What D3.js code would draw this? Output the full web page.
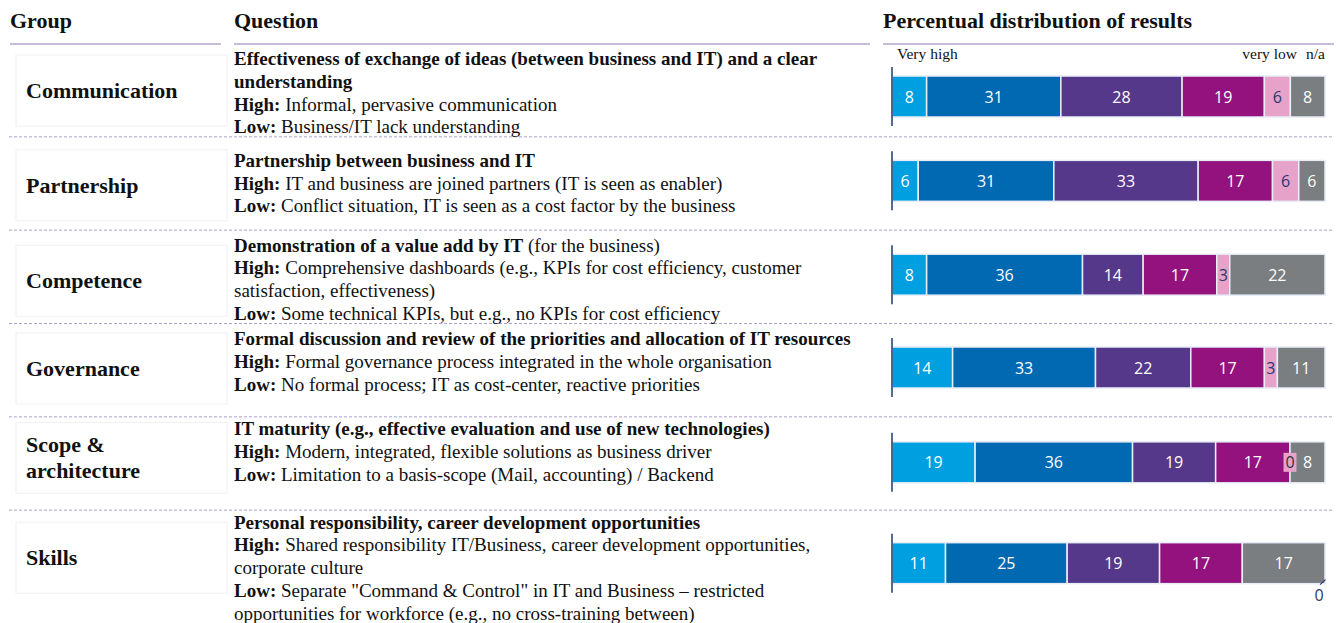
<!DOCTYPE html>
<html>
<head>
<meta charset="utf-8">
<script src="https://cdn.jsdelivr.net/npm/d3@7"></script>
<style>
  html, body { margin: 0; padding: 0; background: #ffffff; }
  svg { display: block; }
</style>
</head>
<body>
<div id="chart"></div>
<script>
// ---------------- DATA ----------------
const groups = ["Communication", "Partnership", "Competence", "Governance", "Scope & architecture", "Skills"];
const groupLabelLines = [["Communication"], ["Partnership"], ["Competence"], ["Governance"], ["Scope &", "architecture"], ["Skills"]];

// each line: [bold part, regular part]
const questionLines = [
  [["Effectiveness of exchange of ideas (between business and IT) and a clear", ""],
   ["understanding", ""],
   ["High:", " Informal, pervasive communication"],
   ["Low:", " Business/IT lack understanding"]],
  [["Partnership between business and IT", ""],
   ["High:", " IT and business are joined partners (IT is seen as enabler)"],
   ["Low:", " Conflict situation, IT is seen as a cost factor by the business"]],
  [["Demonstration of a value add by IT", " (for the business)"],
   ["High:", " Comprehensive dashboards (e.g., KPIs for cost efficiency, customer"],
   ["", "satisfaction, effectiveness)"],
   ["Low:", " Some technical KPIs, but e.g., no KPIs for cost efficiency"]],
  [["Formal discussion and review of the priorities and allocation of IT resources", ""],
   ["High:", " Formal governance process integrated in the whole organisation"],
   ["Low:", " No formal process; IT as cost-center, reactive priorities"]],
  [["IT maturity (e.g., effective evaluation and use of new technologies)", ""],
   ["High:", " Modern, integrated, flexible solutions as business driver"],
   ["Low:", " Limitation to a basis-scope (Mail, accounting) / Backend"]],
  [["Personal responsibility, career development opportunities", ""],
   ["High:", " Shared responsibility IT/Business, career development opportunities,"],
   ["", "corporate culture"],
   ["Low:", " Separate \"Command & Control\" in IT and Business \u2013 restricted"],
   ["", "opportunities for workforce (e.g., no cross-training between)"]]
];

const headers = ["Group", "Question", "Percentual distribution of results"];
const scaleLabels = ["Very high", "very low", "n/a"];

const seriesNames = ["Very high", "High", "Medium", "Low", "Very low", "n/a"];
const veryHigh = [8, 6, 8, 14, 19, 11];
const high     = [31, 31, 36, 33, 36, 25];
const medium   = [28, 33, 14, 22, 19, 19];
const low      = [19, 17, 17, 17, 17, 17];
const veryLow  = [6, 6, 3, 3, 0, 0];
const notAvail = [8, 6, 22, 11, 8, 17];

// ---------------- STYLE / LAYOUT ----------------
const colors = ["#009fe0", "#0069b2", "#56388a", "#94127e", "#e6a2c9", "#7a7e80"];
const labelColors = ["#ffffff", "#ffffff", "#ffffff", "#ffffff", "#27396b", "#ffffff"];
const serif = "'Liberation Serif', 'Times New Roman', serif";
const sans = "'Open Sans', 'Noto Sans', sans-serif";

const W = 1341, H = 623;
const qFirstOffset = [21.5, 30, 21.5, 21.5, 18.5, 18.5];
const barOffset = [53, 44, 44.5, 44, 45.5, 53];
const boxOffset = [11.5, 13, 15, 9.5, 5.5, 12];
const zeroMode = ["box", "box", "box", "box", "box", "leader"];

const svg = d3.select("#chart").append("svg")
  .attr("width", W).attr("height", H)
  .style("background", "#ffffff");

const rows = d3.scaleBand().domain(groups).range([43.5, 603.5]).paddingInner(0).paddingOuter(0);

// ---------- headers ----------
const headerX = [10, 234, 883];
const headerLines = [[10, 221], [234, 870], [883, 1334]];
headers.forEach((h, i) => {
  svg.append("text").attr("x", headerX[i]).attr("y", 28)
    .attr("font-family", serif).attr("font-weight", "bold").attr("font-size", 22)
    .attr("fill", "#111").text(h);
  svg.append("line").attr("x1", headerLines[i][0]).attr("x2", headerLines[i][1])
    .attr("y1", 44).attr("y2", 44).attr("stroke", "#c6bddb").attr("stroke-width", 2);
});

// scale labels
svg.append("text").attr("x", 897).attr("y", 59).attr("font-family", serif).attr("font-size", 15.5)
  .attr("fill", "#111").text(scaleLabels[0]);
svg.append("text").attr("x", 1297).attr("y", 59).attr("text-anchor", "end").attr("font-family", serif).attr("font-size", 15.5)
  .attr("fill", "#111").text(scaleLabels[1]);
svg.append("text").attr("x", 1325).attr("y", 59).attr("text-anchor", "end").attr("font-family", serif).attr("font-size", 15.5)
  .attr("fill", "#111").text(scaleLabels[2]);

// ---------- separators ----------
groups.slice(1).forEach(g => {
  svg.append("line").attr("x1", 9).attr("x2", 1334)
    .attr("y1", rows(g)).attr("y2", rows(g))
    .attr("stroke", "#ada2d0").attr("stroke-width", 1).attr("stroke-dasharray", "3,2");
});

// ---------- rows ----------
const x0 = 892, x1 = 1325;
groups.forEach((g, i) => {
  const top = rows(g);

  // group box
  const bTop = top + boxOffset[i], bH = 71;
  svg.append("rect").attr("x", 16).attr("y", bTop).attr("width", 211).attr("height", bH)
    .attr("fill", "#ffffff").attr("stroke", "#f0f0f0").attr("stroke-width", 1);
  const gl = groupLabelLines[i];
  const lh = 26;
  const cy = bTop + bH / 2 + 7.5 - (gl.length - 1) * lh / 2;
  gl.forEach((t, k) => {
    svg.append("text").attr("x", 26).attr("y", cy + k * lh)
      .attr("font-family", serif).attr("font-weight", "bold").attr("font-size", 22)
      .attr("fill", "#111").text(t);
  });

  // question text
  questionLines[i].forEach((ln, k) => {
    const t = svg.append("text").attr("x", 234).attr("y", top + qFirstOffset[i] + k * 22.8)
      .attr("font-family", serif).attr("font-size", 19).attr("fill", "#111")
      .attr("xml:space", "preserve");
    if (ln[0]) t.append("tspan").attr("font-weight", "bold").text(ln[0]);
    if (ln[1]) t.append("tspan").text(ln[1]);
  });

  // bar
  const vals = [veryHigh[i], high[i], medium[i], low[i], veryLow[i], notAvail[i]];
  const total = d3.sum(vals);
  const x = d3.scaleLinear().domain([0, total]).range([x0, x1]);
  const cyB = top + barOffset[i];
  const bh = 41;
  let cum = 0;
  const segs = vals.map((v, s) => { const d = { v, s, start: cum, end: cum + v }; cum += v; return d; });

  const gb = svg.append("g");
  segs.filter(d => d.v > 0).forEach(d => {
    gb.append("rect").attr("x", x(d.start)).attr("y", cyB - bh / 2)
      .attr("width", x(d.end) - x(d.start)).attr("height", bh)
      .attr("fill", colors[d.s]).attr("stroke", "#e9eef6").attr("stroke-width", 1.5);
    gb.append("text").attr("x", (x(d.start) + x(d.end)) / 2).attr("y", cyB + 6)
      .attr("text-anchor", "middle").attr("font-family", sans).attr("font-size", 16)
      .attr("fill", labelColors[d.s]).text(d.v);
  });
  segs.filter(d => d.v === 0).forEach(d => {
    if (zeroMode[i] === "box") {
      const xc = x(d.start);
      gb.append("rect").attr("x", xc - 6.5).attr("y", cyB - 9.5).attr("width", 13).attr("height", 19)
        .attr("fill", colors[d.s]);
      gb.append("text").attr("x", xc).attr("y", cyB + 6).attr("text-anchor", "middle")
        .attr("font-family", sans).attr("font-size", 16).attr("fill", "#333").text(d.v);
    } else {
      gb.append("line").attr("x1", x1 - 5).attr("y1", cyB + bh / 2 + 1).attr("x2", x1 + 0.5).attr("y2", cyB + bh / 2 - 4)
        .attr("stroke", "#27396b").attr("stroke-width", 1.2);
      gb.append("text").attr("x", x1 - 6).attr("y", cyB + bh / 2 + 17).attr("text-anchor", "middle")
        .attr("font-family", sans).attr("font-size", 16).attr("fill", "#27396b").text(d.v);
    }
  });

  // axis line
  svg.append("line").attr("x1", x0).attr("x2", x0)
    .attr("y1", cyB - 29.5).attr("y2", cyB + 29.5)
    .attr("stroke", "#1e3a70").attr("stroke-width", 1.5);
});
</script>
</body>
</html>
